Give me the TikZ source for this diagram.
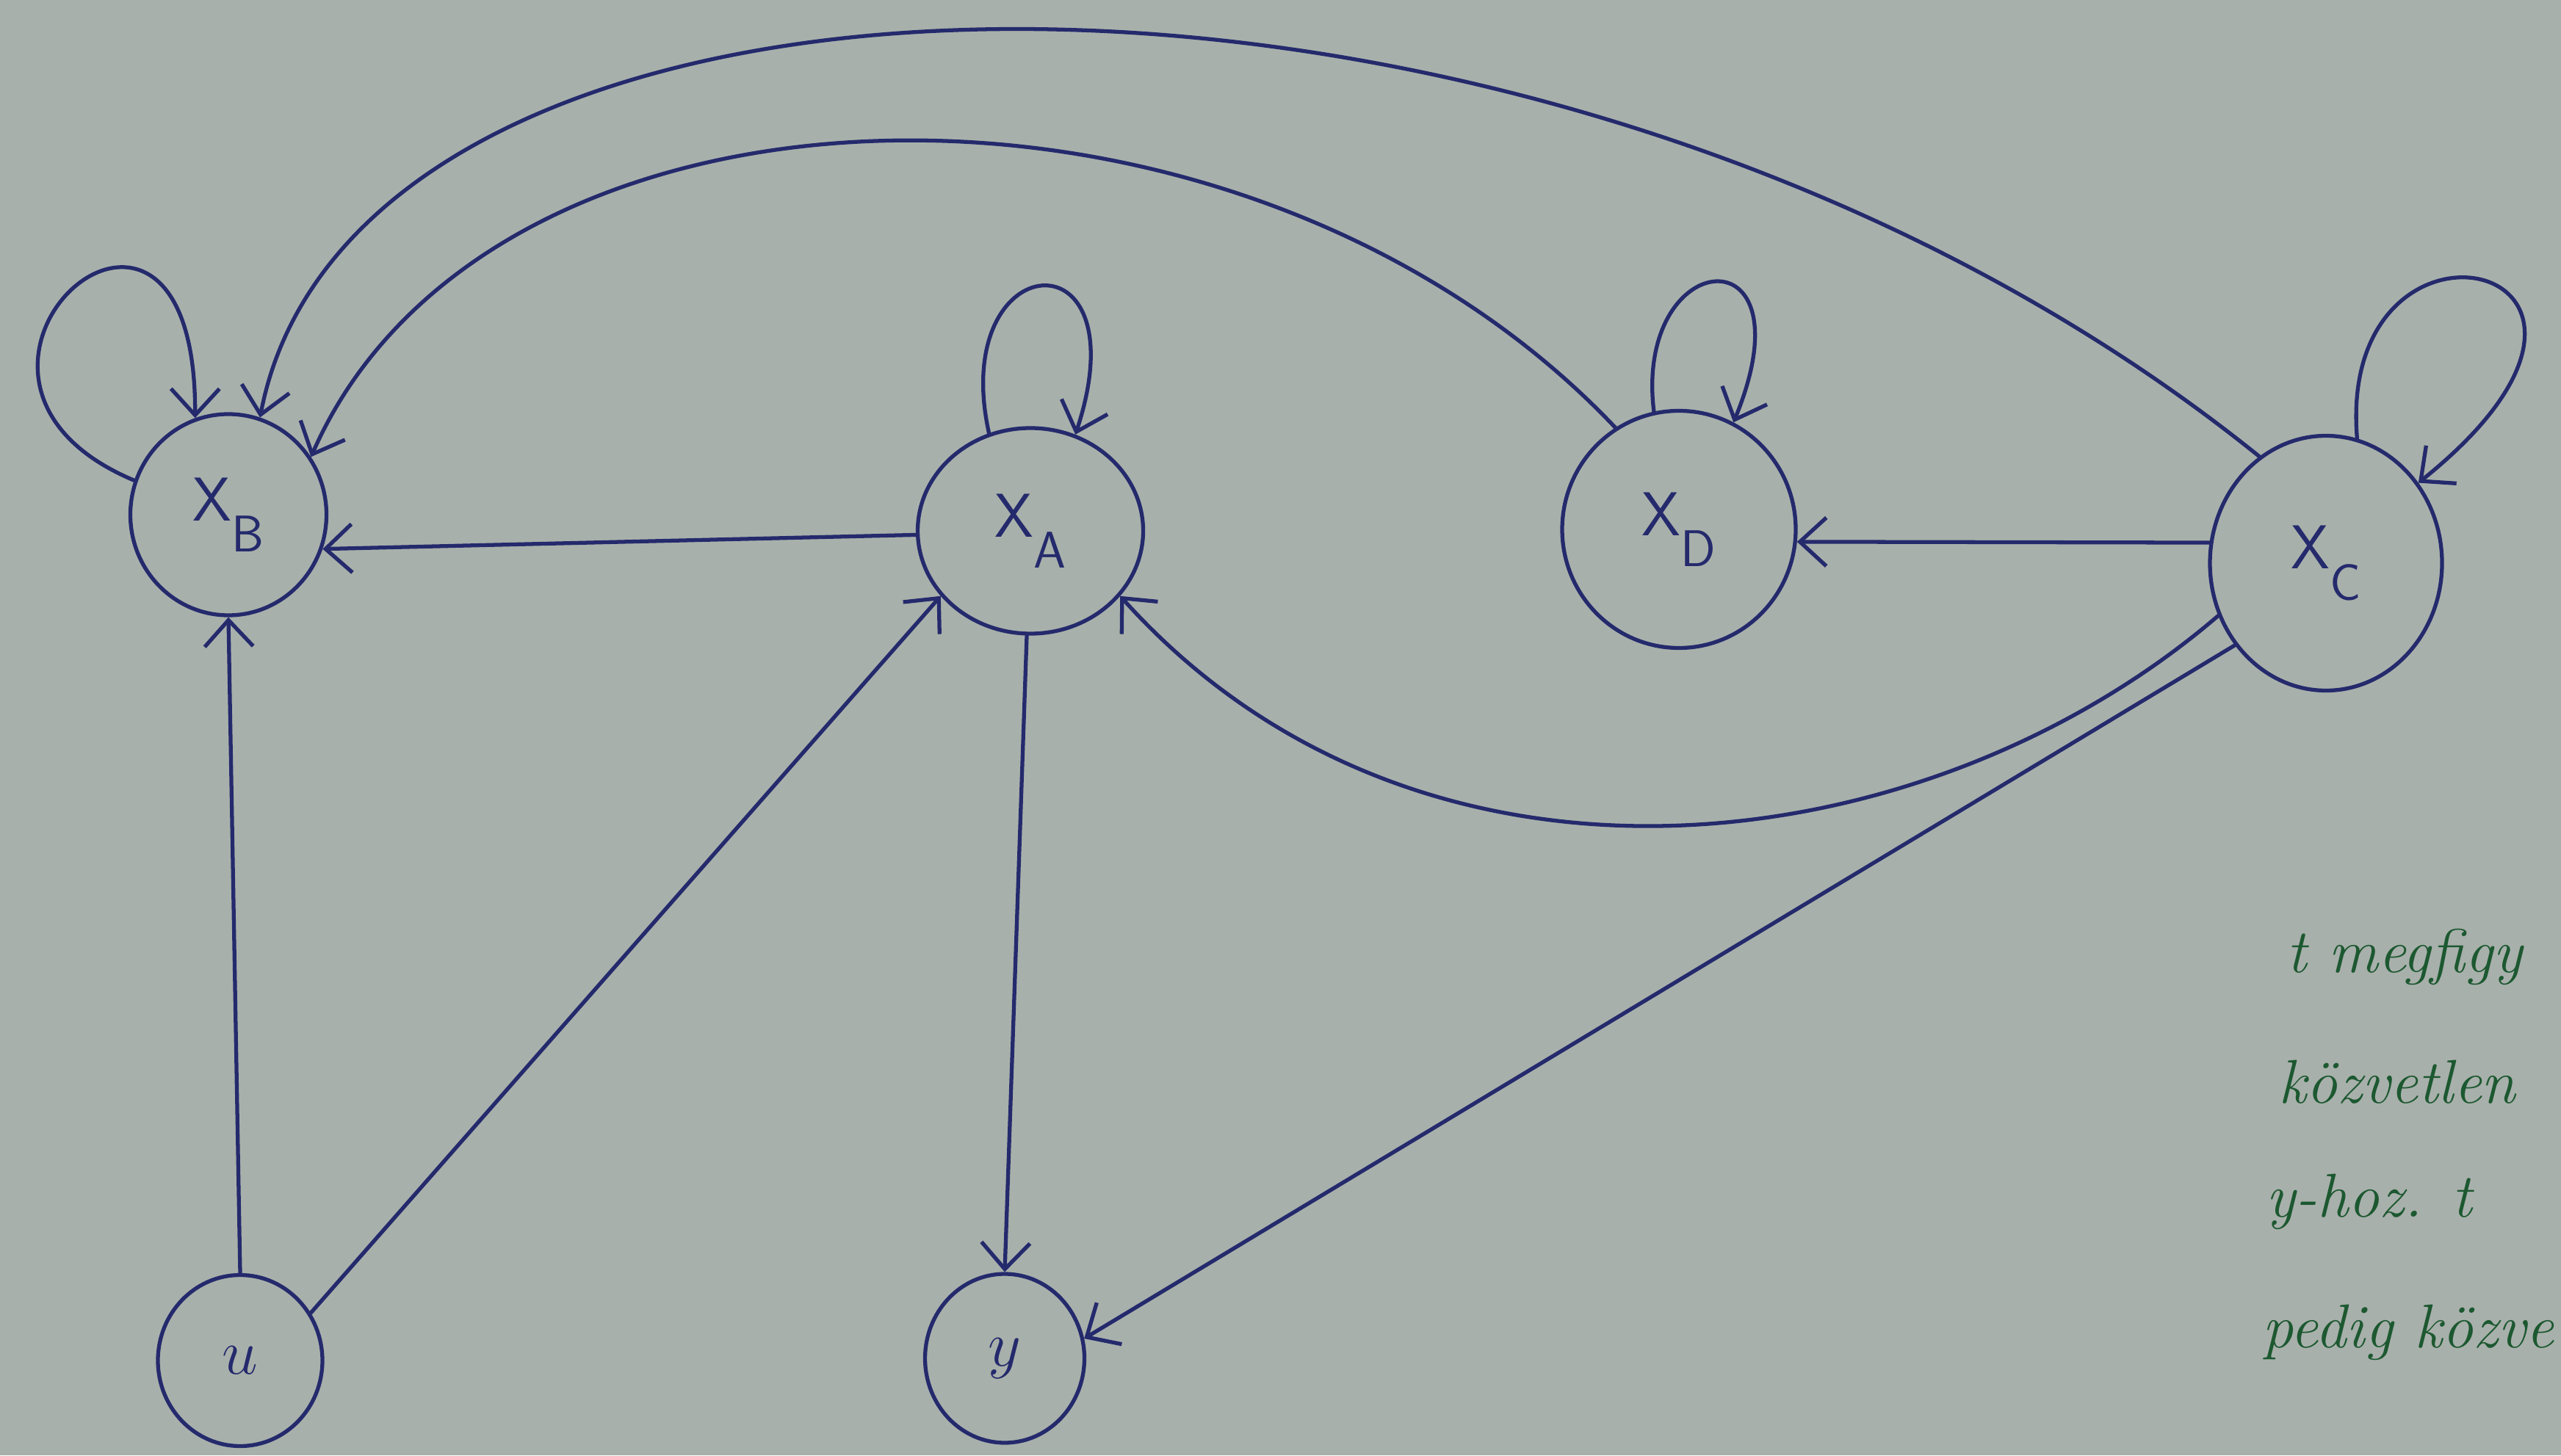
\documentclass[tikz,border=0pt]{standalone}
\usetikzlibrary{arrows.meta,shapes.geometric}
\definecolor{paper}{RGB}{168,176,171}
\definecolor{ink}{RGB}{36,42,108}
\definecolor{pen}{RGB}{28,88,48}
\newcommand\subl[1]{\raisebox{-0.5em}{\fontsize{20}{22}\selectfont #1}}
\tikzset{
  var/.style={draw=ink, line width=1.5pt, ellipse, inner sep=0pt, text=ink,
              font=\sffamily\fontsize{24}{28}\selectfont},
  arr/.style={draw=ink, line width=1.5pt, line cap=round,
              -{Straight Barb[length=0.36cm,width=0.66cm]}},
  note/.style={text=pen, anchor=base west, inner sep=0pt,
               font=\itshape\fontsize{24}{28}\selectfont},
}
\begin{document}
\begin{tikzpicture}
\fill[paper] (0,0) rectangle (34.87,19.82);
\useasboundingbox (0,0) rectangle (34.87,19.82);

% nodes
\node[var, minimum width=2.67cm, minimum height=2.74cm] (XB) at (3.11,12.81) {X\subl{B}};
\node[var, minimum width=3.07cm, minimum height=2.80cm] (XA) at (14.03,12.59) {X\subl{A}};
\node[var, minimum width=3.18cm, minimum height=3.23cm] (XD) at (22.86,12.61) {X\subl{D}};
\node[var, minimum width=3.16cm, minimum height=3.47cm] (XC) at (31.67,12.15) {X\subl{C}};
\node[var, minimum width=2.24cm, minimum height=2.33cm, font=\fontsize{28}{30}\selectfont] (u) at (3.27,1.29) {$u$};
\node[var, minimum width=2.17cm, minimum height=2.30cm, font=\fontsize{28}{30}\selectfont] (y) at (13.68,1.32) {$y$};

% straight edges
\draw[arr] (u.north) -- (XB.south);
\draw[arr] (u.34) -- (XA.216);
\draw[arr] (XA.182) -- (XB.-20);
\draw[arr] (XA.268) -- (y.north);
\draw[arr] (XC.170) -- (XD.-6);
\draw[arr] (XC.222) -- (y.14);

% curved edges
\draw[arr] (XC.206) .. controls (26.24,8.03) and (19.35,7.14) .. (XA.-36);
\draw[arr] (XD.122) .. controls (16.90,19.38) and (6.67,19.15) .. (XB.35);
\draw[arr] (XC.122) .. controls (21.13,21.38) and (4.89,21.15) .. (XB.72);

% self loops
\draw[arr] (XB.160) .. controls (-1.56,14.70) and (2.67,18.49) .. (XB.109);
\draw[arr] (XA.113) .. controls (12.90,16.48) and (15.57,16.71) .. (XA.65);
\draw[arr] (XD.102) .. controls (22.24,16.48) and (24.69,16.71) .. (XD.63);
\draw[arr] (XC.76) .. controls (31.80,17.37) and (36.69,16.26) .. (XC.41);

% handwritten note
\node[note] (n1) at (31.13,6.58) {t megfigy};
\node[note] (n2) at (31.02,4.80) {közvetlen};
\node[note] (n3) at (30.85,3.25) {y-hoz. t};
\node[note] (n4) at (30.80,1.47) {pedig közve};
\end{tikzpicture}
\end{document}
